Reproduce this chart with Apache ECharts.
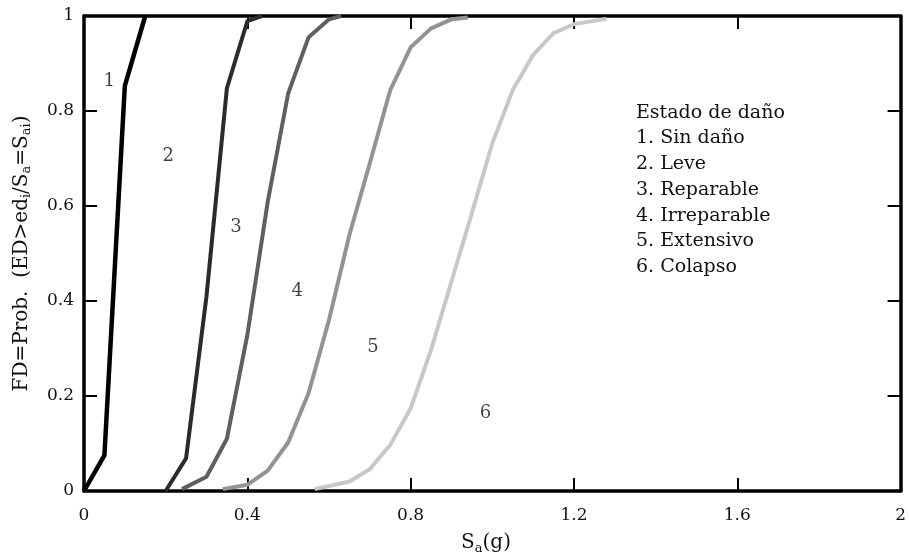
<!DOCTYPE html>
<html>
<head>
<meta charset="utf-8">
<script src="https://cdn.jsdelivr.net/npm/echarts@6/dist/echarts.min.js"></script>
<style>
html,body{margin:0;padding:0;background:#fff;}
#chart{width:909px;height:556px;}
</style>
</head>
<body>
<div id="chart"></div>
<script>
// Fragility curves: [Sa (g), probability]
const curve1 = [[0,0],[0.05,0.075],[0.1,0.853],[0.15,1.0]];
const curve2 = [[0.2,0],[0.25,0.069],[0.3,0.41],[0.35,0.848],[0.4,0.989],[0.435,1.0]];
const curve3 = [[0.24,0.004],[0.3,0.03],[0.35,0.11],[0.4,0.328],[0.45,0.609],[0.5,0.837],[0.55,0.955],[0.6,0.993],[0.63,1.0]];
const curve4 = [[0.34,0.004],[0.4,0.013],[0.45,0.043],[0.5,0.102],[0.55,0.206],[0.6,0.36],[0.65,0.539],[0.7,0.69],[0.75,0.844],[0.8,0.934],[0.85,0.974],[0.9,0.993],[0.94,0.997]];
const curve5 = [[0.565,0.004],[0.65,0.02],[0.7,0.046],[0.75,0.097],[0.8,0.174],[0.85,0.297],[0.9,0.441],[0.95,0.585],[1.0,0.732],[1.05,0.844],[1.1,0.918],[1.15,0.964],[1.2,0.983],[1.28,0.994]];

const curveColors = ['#000000','#2b2b2b','#5f5f5f','#939393','#c8c8c8'];
const curves = [curve1, curve2, curve3, curve4, curve5];

// Damage-state region labels (placed in data coordinates)
const regionNames = ['1','2','3','4','5','6'];
const regionPos = [[0.062,0.862],[0.206,0.704],[0.372,0.556],[0.522,0.42],[0.708,0.303],[0.983,0.164]];

const legendTitle = 'Estado de daño';
const legendItems = ['1. Sin daño','2. Leve','3. Reparable','4. Irreparable','5. Extensivo','6. Colapso'];

const xMin = 0, xMax = 2, xStep = 0.4;
const yMin = 0, yMax = 1, yStep = 0.2;

const FONT = 'DejaVu Serif';

const chart = echarts.init(document.getElementById('chart'), null, {renderer:'canvas'});

const baseAxis = {
  axisLine:{show:true, onZero:false, lineStyle:{color:'#000', width:3.5}},
  axisTick:{show:true, inside:true, length:13, lineStyle:{color:'#000', width:2}},
  splitLine:{show:false},
};

const series = curves.map((c, i) => ({
  type:'line',
  data:c,
  xAxisIndex:0, yAxisIndex:0,
  showSymbol:false,
  symbol:'none',
  clip:false,
  lineStyle:{color:curveColors[i], width: i===0 ? 4.5 : 4, join:'miter', cap:'butt'},
  z: 3 + i,
  silent:true
}));

series.push({
  type:'scatter',
  xAxisIndex:0, yAxisIndex:0,
  data: regionNames.map((n,i)=>({name:n, value:regionPos[i]})),
  symbolSize:0,
  label:{show:true, position:'inside', formatter:p=>p.name, fontFamily:FONT, fontSize:18, color:'#111'},
  silent:true,
  z:10
});

const legendText = [legendTitle].concat(legendItems).join('\n');

chart.setOption({
  animation:false,
  backgroundColor:'#fff',
  grid:{left:84, right:7.5, top:16, bottom:65, containLabel:false},
  xAxis:[
    Object.assign({}, baseAxis, {type:'value', position:'bottom', min:xMin, max:xMax, interval:xStep,
      axisLabel:{show:true, margin:16, fontFamily:FONT, fontSize:17, color:'#111'}}),
    Object.assign({}, baseAxis, {type:'value', position:'top', min:xMin, max:xMax, interval:xStep,
      axisLabel:{show:false}})
  ],
  yAxis:[
    Object.assign({}, baseAxis, {type:'value', position:'left', min:yMin, max:yMax, interval:yStep,
      axisLabel:{show:true, margin:10, fontFamily:FONT, fontSize:17, color:'#111'}}),
    Object.assign({}, baseAxis, {type:'value', position:'right', min:yMin, max:yMax, interval:yStep,
      axisLabel:{show:false}})
  ],
  series: series,
  graphic:[
    {
      type:'text', left:636, top:100, silent:true,
      style:{text:legendText, fontFamily:FONT, fontSize:19, lineHeight:25.7, fill:'#111'}
    },
    {
      type:'text', x:486, y:543, silent:true,
      style:{
        text:'{n|S}{s|a}{n|(g)}',
        align:'center', verticalAlign:'middle',
        rich:{
          n:{fontFamily:FONT, fontSize:20, lineHeight:24, fill:'#111'},
          s:{fontFamily:FONT, fontSize:13, lineHeight:11, verticalAlign:'bottom', fill:'#111'}
        }
      }
    },
    {
      type:'text', x:21.5, y:253.5, rotation:Math.PI/2, silent:true,
      style:{
        text:'{n|FD=Prob.  (ED>ed}{s|i}{n|/S}{s|a}{n|=S}{s|ai}{n|)}',
        align:'center', verticalAlign:'middle',
        rich:{
          n:{fontFamily:FONT, fontSize:20, lineHeight:24, fill:'#111'},
          s:{fontFamily:FONT, fontSize:13, lineHeight:11, verticalAlign:'bottom', fill:'#111'}
        }
      }
    }
  ]
});
</script>
</body>
</html>
